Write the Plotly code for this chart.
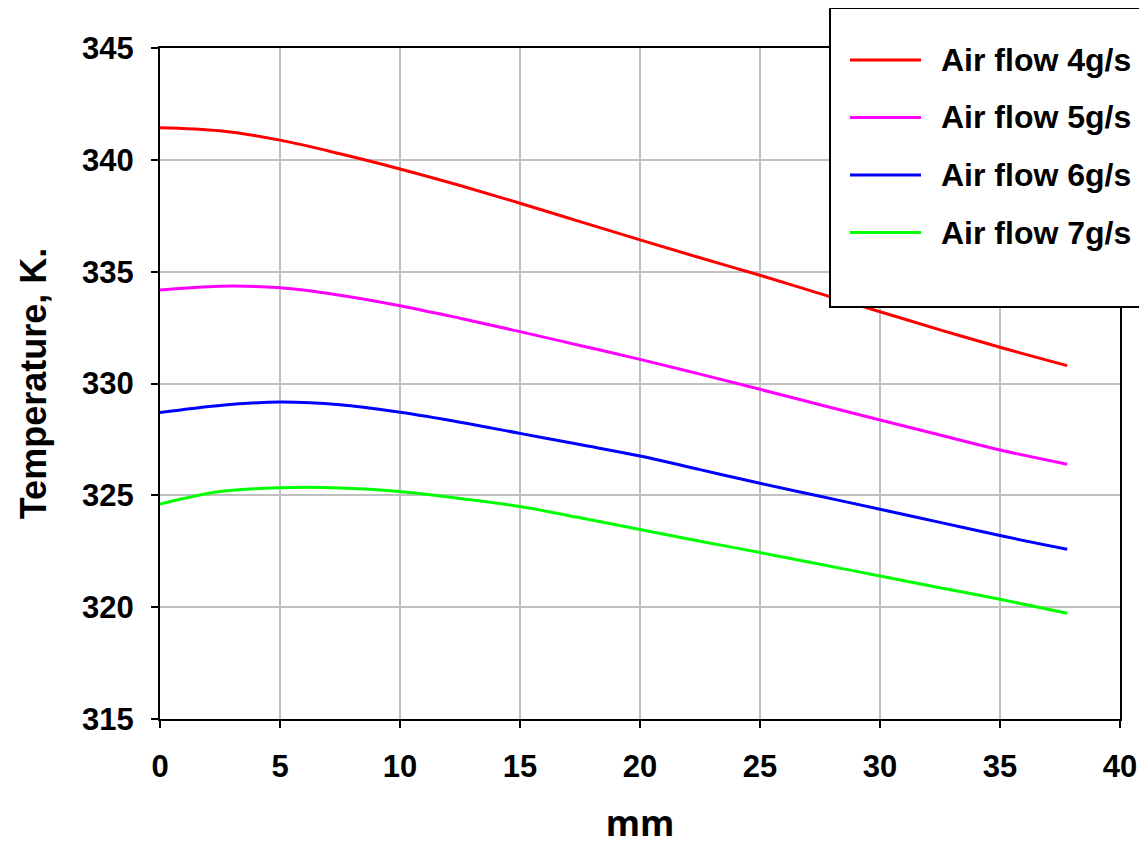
import plotly.graph_objects as go

# Distance along the channel, mm
x_mm = [0, 2.5, 5, 7.5, 10, 12.5, 15, 17.5, 20, 22.5, 25, 27.5, 30, 32.5, 35, 37.8]

# Temperatures, K
t_air4 = [341.44, 341.30, 340.88, 340.27, 339.59, 338.85, 338.06, 337.24, 336.42,
          335.62, 334.84, 334.02, 333.21, 332.40, 331.62, 330.80]
t_air5 = [334.18, 334.35, 334.28, 333.95, 333.48, 332.92, 332.32, 331.70, 331.08,
          330.42, 329.74, 329.05, 328.37, 327.70, 327.03, 326.39]
t_air6 = [328.70, 329.02, 329.17, 329.05, 328.71, 328.27, 327.77, 327.27, 326.76,
          326.15, 325.54, 324.96, 324.38, 323.79, 323.20, 322.59]
t_air7 = [324.61, 325.17, 325.34, 325.33, 325.17, 324.86, 324.50, 324.00, 323.47,
          322.95, 322.44, 321.92, 321.39, 320.87, 320.35, 319.73]

series_names = ["Air flow 4g/s", "Air flow 5g/s", "Air flow 6g/s", "Air flow 7g/s"]
series_values = [t_air4, t_air5, t_air6, t_air7]
series_colors = ["#ff0000", "#ff00ff", "#0000ff", "#00ff00"]

x_ticks = [0, 5, 10, 15, 20, 25, 30, 35, 40]
y_ticks = [315, 320, 325, 330, 335, 340, 345]

W, H = 1147, 846
OFF = 8  # page offset of the figure inside the window
ML, MR, MT, MB = 152, 35, 40, 135
PW, PH = W - ML - MR, H - MT - MB


def px_to_paper(px, py):
    """Convert window (screenshot) pixel coords to paper coords."""
    fx, fy = px - OFF, py - OFF
    return (fx - ML) / PW, (H - MB - fy) / PH


fig = go.Figure()
for name, vals, col in zip(series_names, series_values, series_colors):
    fig.add_trace(go.Scatter(x=x_mm, y=vals, mode="lines", name=name,
                             line=dict(color=col, width=3, shape="spline"),
                             showlegend=False))

FONT = "Liberation Sans, Arial, sans-serif"

shapes = []
annotations = []
# legend box
x0, y0 = px_to_paper(830, 8)
x1, y1 = px_to_paper(1170, 307)
shapes.append(dict(type="rect", xref="paper", yref="paper", x0=x0, y0=y1, x1=x1, y1=y0,
                   line=dict(color="black", width=2), fillcolor="white", layer="above"))
rows = [60, 117.5, 175, 232.5]
for name, col, ry in zip(series_names, series_colors, rows):
    lx0, ly = px_to_paper(850, ry)
    lx1, _ = px_to_paper(921, ry)
    shapes.append(dict(type="line", xref="paper", yref="paper", x0=lx0, x1=lx1, y0=ly, y1=ly,
                       line=dict(color=col, width=3), layer="above"))
    tx, ty = px_to_paper(939, ry)
    annotations.append(dict(xref="paper", yref="paper", x=tx, y=ty, xanchor="left",
                            yanchor="middle", showarrow=False, text=f"<b>{name}</b>",
                            font=dict(family=FONT, size=32, color="black")))

fig.update_layout(
    width=W, height=H,
    margin=dict(l=ML, r=MR, t=MT, b=MB),
    paper_bgcolor="white", plot_bgcolor="white",
    shapes=shapes, annotations=annotations,
    font=dict(family=FONT, color="black"),
    xaxis=dict(range=[0, 40], tickvals=x_ticks, ticktext=[f"<b>{v}</b>" for v in x_ticks],
               showgrid=True, gridcolor="#c0c0c0", gridwidth=1.5,
               showline=True, linecolor="black", linewidth=2, mirror=True,
               ticks="outside", ticklen=7, tickwidth=2, tickcolor="black",
               ticklabelstandoff=12,
               tickfont=dict(family=FONT, size=31, color="black"),
               zeroline=False,
               title=dict(text="<b>mm</b>", standoff=28,
                          font=dict(family="Open Sans, sans-serif", size=35, color="black"))),
    yaxis=dict(range=[315, 345], tickvals=y_ticks, ticktext=[f"<b>{v}</b>" for v in y_ticks],
               showgrid=True, gridcolor="#c0c0c0", gridwidth=1.5,
               showline=True, linecolor="black", linewidth=2, mirror=True,
               ticks="outside", ticklen=7, tickwidth=2, tickcolor="black",
               ticklabelstandoff=11,
               tickfont=dict(family=FONT, size=31, color="black"),
               zeroline=False,
               title=dict(text="<b>Temperature, K.</b>", standoff=24,
                          font=dict(family=FONT, size=36, color="black"))),
)

fig.write_html("out.html")
